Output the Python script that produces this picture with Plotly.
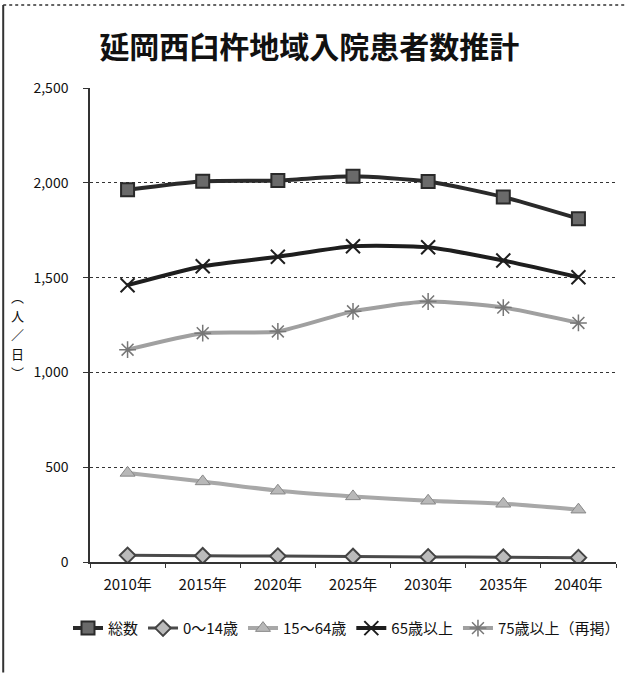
import plotly.graph_objects as go

years = ["2010年", "2015年", "2020年", "2025年", "2030年", "2035年", "2040年"]
total = [1963, 2008, 2012, 2034, 2007, 1925, 1811]
age0_14 = [35, 33, 31, 29, 27, 25, 23]
age15_64 = [470, 425, 376, 346, 323, 307, 276]
age65 = [1460, 1560, 1610, 1665, 1660, 1590, 1502]
age75 = [1120, 1207, 1216, 1322, 1374, 1342, 1261]
yticks = [0, 500, 1000, 1500, 2000, 2500]
yticklabels = ["0", "500", "1,000", "1,500", "2,000", "2,500"]
ylabel_chars = ["︵", "人", "／", "日", "︶"]

FONT = "Noto Sans CJK JP"
fig = go.Figure()

series = [
    ("総数", total, dict(color="#2a2a2a", width=4), dict(symbol="square", size=13, color="#6a6a6a", line=dict(color="#2a2a2a", width=2))),
    ("0～14歳", age0_14, dict(color="#4a4a4a", width=3), dict(symbol="diamond", size=12, color="#bbbbbb", line=dict(color="#444444", width=2))),
    ("15～64歳", age15_64, dict(color="#a8a8a8", width=4), dict(symbol="triangle-up", size=13, color="#b8b8b8", line=dict(color="#888888", width=1))),
    ("65歳以上", age65, dict(color="#1e1e1e", width=4), dict(symbol="x-thin-open", size=14, color="#1e1e1e", line=dict(color="#1e1e1e", width=2))),
    ("75歳以上（再掲）", age75, dict(color="#a0a0a0", width=4), dict(symbol="asterisk-open", size=14, color="#777777", line=dict(color="#777777", width=1.5))),
]
for name, vals, ln, mk in series:
    fig.add_trace(go.Scatter(x=years, y=vals, name=name, mode="lines+markers",
                             line=dict(shape="spline", smoothing=0.6, **ln), marker=mk))

fig.update_layout(
    width=625, height=673,
    paper_bgcolor="white", plot_bgcolor="white",
    margin=dict(l=90, r=9, t=88, b=111),
    font=dict(family=FONT, color="#111111"),
    title=dict(text="<b>延岡西臼杵地域入院患者数推計</b>", x=0.495, xanchor="center",
               y=0.93, yanchor="middle", font=dict(size=30, family=FONT, color="#111111")),
    showlegend=True,
    legend=dict(orientation="h", x=-0.03, xanchor="left", y=-0.14, yanchor="middle",
                font=dict(size=15, family=FONT, color="#111111"),
                itemwidth=30, tracegroupgap=0, bgcolor="rgba(0,0,0,0)"),
)
fig.update_xaxes(type="category", showgrid=False, showline=True, linecolor="#333333",
                 linewidth=1.5, ticks="outside", ticklen=4, tickcolor="#333333",
                 tickson="boundaries", ticklabelstandoff=8,
                 tickfont=dict(size=15, family=FONT, color="#111111"),
                 range=[-0.5, 6.5])
fig.update_yaxes(range=[0, 2500], tickvals=yticks, ticktext=yticklabels,
                 showgrid=True, gridcolor="#333333", griddash="dot", gridwidth=1.2,
                 showline=True, linecolor="#333333", linewidth=1.5, zeroline=False,
                 ticks="outside", ticklen=5, tickcolor="#333333", ticklabelstandoff=12,
                 tickfont=dict(size=14, family=FONT, color="#111111"))

# vertical y-axis title, one glyph per annotation
for i, ch in enumerate(ylabel_chars):
    fig.add_annotation(text=ch, xref="paper", yref="paper",
                       x=-0.137, y=(562 - (296 + i * 19)) / 474, xanchor="center", yanchor="middle",
                       showarrow=False, font=dict(size=13, family=FONT, color="#111111"))
# outer frame
fig.add_shape(type="line", xref="paper", yref="paper", x0=-0.165, x1=-0.165, y0=-0.233, y1=1.175,
              line=dict(color="#333333", width=2))
fig.add_shape(type="line", xref="paper", yref="paper", x0=-0.165, x1=1.02, y0=1.175, y1=1.175,
              line=dict(color="#333333", width=1.5, dash="dot"))

fig.write_html("out.html", config={"displayModeBar": False},
               post_script="document.body.style.margin='0';document.body.style.overflow='hidden';")
